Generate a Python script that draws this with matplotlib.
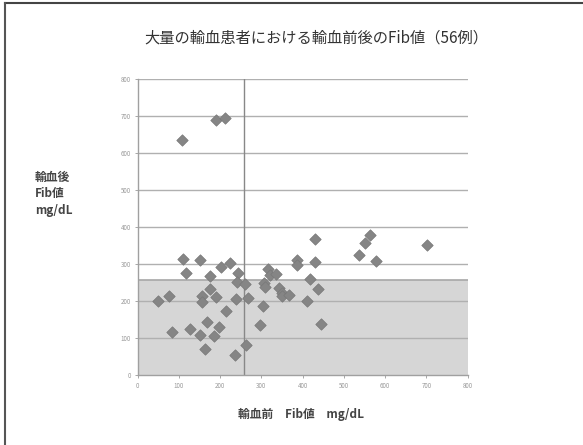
import numpy as np
import matplotlib.pyplot as plt
from matplotlib.lines import Line2D

plt.rcParams['font.family'] = ['Noto Sans CJK JP', 'DejaVu Sans']

# Fib before / after transfusion (mg/dL)
fib_before = [50, 77, 82, 109, 117, 127, 150, 155, 155, 150, 168, 164, 176, 176,
              190, 186, 196, 201, 213, 223, 242, 240, 238, 236, 260, 268, 262,
              297, 303, 305, 309, 317, 320, 335, 342, 351, 349, 367, 385, 385,
              411, 417, 431, 431, 438, 445, 108, 191, 211, 536, 550, 564, 578, 702]
fib_after = [200, 213, 117, 313, 277, 124, 310, 213, 198, 108, 143, 72, 268, 232,
             211, 106, 130, 292, 174, 303, 276, 252, 205, 56, 247, 208, 82,
             137, 188, 250, 239, 288, 270, 273, 237, 221, 213, 218, 312, 297,
             200, 261, 369, 307, 234, 139, 634, 689, 696, 324, 357, 379, 309, 352]
threshold = 257
ticks = [0, 100, 200, 300, 400, 500, 600, 700, 800]

fig = plt.figure(figsize=(5.83, 4.45), dpi=100)
ax = fig.add_axes([0.2362, 0.1566, 0.566, 0.6659])

ax.axhspan(0, threshold, color='#d6d6d6', zorder=0)
ax.axhline(threshold, color='#a8a8a8', lw=1.2, zorder=1)
for t in ticks[1:]:
    ax.axhline(t, color='#b0b0b0', lw=1.0, zorder=1)
ax.axvline(threshold, color='#888888', lw=1.0, zorder=2)

ax.scatter(fib_before, fib_after, marker='D', s=34, color='#858585',
           edgecolors='#787878', linewidths=0.5, zorder=3)

ax.set_xlim(0, 800)
ax.set_ylim(0, 800)
ax.set_xticks(ticks)
ax.set_yticks(ticks)
ax.tick_params(labelsize=4.5, colors='#999999', length=2, width=0.6, pad=3)
for s in ['top', 'right']:
    ax.spines[s].set_visible(False)
for s in ['left', 'bottom']:
    ax.spines[s].set_color('#a0a0a0')
    ax.spines[s].set_linewidth(1.0)

fig.text(0.543, 0.915, '大量の輸血患者における輸血前後のFib値（56例）',
         ha='center', va='center', fontsize=11, color='#333333')
fig.text(0.06, 0.565, '輸血後\nFib値\nmg/dL', ha='left', va='center',
         fontsize=8.5, color='#444444', linespacing=1.35, fontweight='bold')
fig.text(0.517, 0.068, '輸血前　Fib値　mg/dL', ha='center', va='center',
         fontsize=8.5, color='#444444', fontweight='bold')

# frame (top and left edges)
fig.add_artist(Line2D([0.009, 1.0], [0.994, 0.994], transform=fig.transFigure,
                      color='#444444', lw=1.5))
fig.add_artist(Line2D([0.009, 0.009], [0.0, 0.994], transform=fig.transFigure,
                      color='#555555', lw=1.5))

plt.savefig('out.png', dpi=100)
